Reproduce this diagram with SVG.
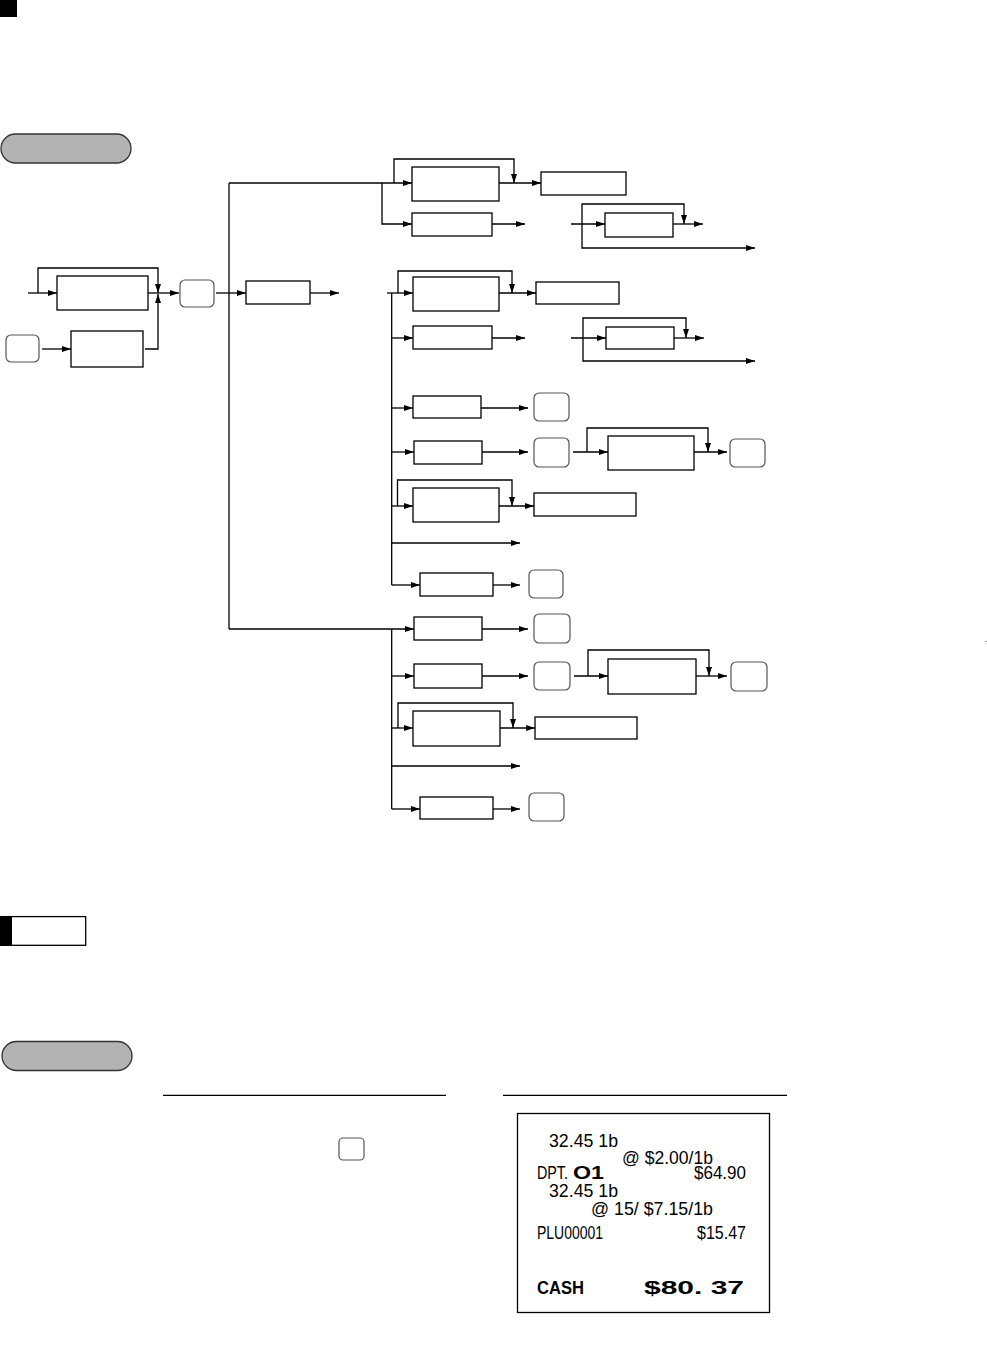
<svg xmlns="http://www.w3.org/2000/svg" width="987" height="1372" viewBox="0 0 987 1372">
<defs>
<marker id="ah" markerUnits="userSpaceOnUse" markerWidth="10" markerHeight="7" refX="9" refY="3" orient="auto">
<path d="M0,0 L9,3 L0,6 z" fill="#000"/>
</marker>
<style>
.bx{fill:#fff;stroke:#000;stroke-width:1.3}
.key{fill:#fff;stroke:#555;stroke-width:1.2}
.pill{fill:#b3b3b3;stroke:#333;stroke-width:1.3}
.ln{fill:none;stroke:#000;stroke-width:1.3}
.ar{fill:none;stroke:#000;stroke-width:1.3;marker-end:url(#ah)}
.rc{font-family:"Liberation Sans",Arial,sans-serif;font-size:19px;fill:#000}
.rb{font-family:"Liberation Sans",Arial,sans-serif;font-size:19px;font-weight:bold;fill:#000}
</style>
</defs>
<rect width="987" height="1372" fill="#fff"/>
<rect x="0" y="0" width="17" height="17" fill="#000"/>
<rect id="pill1" class="pill" x="1" y="134" width="130" height="29" rx="14.5"/>

<g id="connectors">
<!-- left input -->
<path class="ar" d="M28,293 H57"/>
<path class="ar" d="M38,293 V268 H158 V293"/>
<path class="ln" d="M148,293 H158"/>
<path class="ar" d="M158,293 H179"/>
<path class="ar" d="M145,349 H158 V294"/>
<path class="ar" d="M42,349 H71"/>
<path class="ar" d="M216,293 H246"/>
<path class="ar" d="M310,293 H339"/>
<!-- main trunk -->
<path class="ln" d="M229,183 V629"/>
<path class="ar" d="M229,183 H412"/>
<path class="ar" d="M229,629 H414"/>
<!-- group A -->
<path class="ar" d="M382,183 V224 H412"/>
<path class="ar" d="M394,183 V159 H514 V183"/>
<path class="ar" d="M499,183 H541"/>
<path class="ar" d="M492,224 H525"/>
<path class="ar" d="M571,224 H605"/>
<path class="ar" d="M582,224 V204 H684 V224"/>
<path class="ar" d="M582,224 V248 H755"/>
<path class="ar" d="M673,224 H703"/>
<!-- group C -->
<path class="ar" d="M387,293 H413"/>
<path class="ln" d="M391.7,293 V585"/>
<path class="ar" d="M398,293 V271 H512 V293"/>
<path class="ar" d="M499,293 H536"/>
<path class="ar" d="M391.7,338 H413"/>
<path class="ar" d="M492,338 H525"/>
<path class="ar" d="M571,338 H606"/>
<path class="ar" d="M583,338 V318 H686 V338"/>
<path class="ar" d="M583,338 V361 H755"/>
<path class="ar" d="M674,338 H704"/>
<path class="ar" d="M391.7,408 H413"/>
<path class="ar" d="M481,408 H528"/>
<path class="ar" d="M391.7,452 H414"/>
<path class="ar" d="M482,452 H528"/>
<path class="ar" d="M573,452 H608"/>
<path class="ar" d="M587,452 V428 H708 V452"/>
<path class="ar" d="M694,452 H727"/>
<path class="ar" d="M391.7,506 H413"/>
<path class="ar" d="M397.5,506 V480 H512 V506"/>
<path class="ar" d="M499,506 H534"/>
<path class="ar" d="M391.7,543 H520"/>
<path class="ar" d="M391.7,585 H420"/>
<path class="ar" d="M493,585 H520"/>
<!-- group E -->
<path class="ln" d="M391.7,629 V809"/>
<path class="ar" d="M482,629 H528"/>
<path class="ar" d="M391.7,676 H414"/>
<path class="ar" d="M482,676 H528"/>
<path class="ar" d="M574,676 H608"/>
<path class="ar" d="M588,676 V650 H709 V676"/>
<path class="ar" d="M696,676 H727"/>
<path class="ar" d="M391.7,728 H413"/>
<path class="ar" d="M398,728 V703 H513 V728"/>
<path class="ar" d="M500,728 H535"/>
<path class="ar" d="M391.7,766 H520"/>
<path class="ar" d="M391.7,809 H420"/>
<path class="ar" d="M493,809 H520"/>
</g>

<!-- left nodes -->
<g id="n_box1"><rect class="bx" x="57" y="276" width="91" height="34"/></g>
<g id="n_key1"><rect class="key" x="180" y="280" width="34" height="27" rx="5"/></g>
<g id="n_key2"><rect class="key" x="6" y="335" width="33" height="27" rx="5"/></g>
<g id="n_box2"><rect class="bx" x="71" y="331" width="72" height="36"/></g>
<g id="n_box3"><rect class="bx" x="246" y="281" width="64" height="23"/></g>

<!-- group A -->
<g id="n_a1"><rect class="bx" x="412" y="167" width="87" height="34"/></g>
<g id="n_a2"><rect class="bx" x="541" y="172" width="85" height="23"/></g>
<g id="n_b1"><rect class="bx" x="412" y="213" width="80" height="23"/></g>
<g id="n_b2"><rect class="bx" x="605" y="213" width="68" height="24"/></g>

<!-- group C -->
<g id="n_c1"><rect class="bx" x="413" y="277" width="86" height="34"/></g>
<g id="n_c2"><rect class="bx" x="536" y="282" width="83" height="22"/></g>
<g id="n_d1"><rect class="bx" x="413" y="326" width="79" height="23"/></g>
<g id="n_d2"><rect class="bx" x="606" y="327" width="68" height="22"/></g>
<g id="n_e1"><rect class="bx" x="413" y="396" width="68" height="22"/></g>
<g id="n_e2"><rect class="key" x="534" y="393" width="35" height="28" rx="5"/></g>
<g id="n_f1"><rect class="bx" x="414" y="441" width="68" height="23"/></g>
<g id="n_f2"><rect class="key" x="534" y="438" width="35" height="29" rx="5"/></g>
<g id="n_f3"><rect class="bx" x="608" y="436" width="86" height="34"/></g>
<g id="n_f4"><rect class="key" x="730" y="439" width="35" height="28" rx="5"/></g>
<g id="n_g1"><rect class="bx" x="413" y="488" width="86" height="34"/></g>
<g id="n_g2"><rect class="bx" x="534" y="493" width="102" height="23"/></g>
<g id="n_h1"><rect class="bx" x="420" y="573" width="73" height="23"/></g>
<g id="n_h2"><rect class="key" x="529" y="570" width="34" height="28" rx="5"/></g>

<!-- group E -->
<g id="n_i1"><rect class="bx" x="414" y="617" width="68" height="23"/></g>
<g id="n_i2"><rect class="key" x="534" y="614" width="36" height="29" rx="5"/></g>
<g id="n_j1"><rect class="bx" x="414" y="664" width="68" height="24"/></g>
<g id="n_j2"><rect class="key" x="534" y="662" width="36" height="28" rx="5"/></g>
<g id="n_j3"><rect class="bx" x="608" y="659" width="88" height="35"/></g>
<g id="n_j4"><rect class="key" x="731" y="662" width="36" height="29" rx="5"/></g>
<g id="n_k1"><rect class="bx" x="413" y="711" width="87" height="35"/></g>
<g id="n_k2"><rect class="bx" x="535" y="717" width="102" height="22"/></g>
<g id="n_l1"><rect class="bx" x="420" y="797" width="73" height="22"/></g>
<g id="n_l2"><rect class="key" x="529" y="793" width="35" height="28" rx="5"/></g>

<rect x="985" y="641" width="1.5" height="1" fill="#999"/>

<!-- bottom section -->
<rect x="0.7" y="916.6" width="85" height="28.7" fill="#fff" stroke="#000" stroke-width="1.3"/>
<rect x="0" y="916" width="12" height="30" fill="#000"/>
<rect id="pill2" class="pill" x="2" y="1041.5" width="130" height="29" rx="14.5"/>
<line class="ln" x1="163" y1="1095.3" x2="446" y2="1095.3"/>
<line class="ln" x1="503" y1="1095.3" x2="787" y2="1095.3"/>
<g id="n_key_bottom"><rect class="key" x="339" y="1138" width="25" height="22" rx="4"/></g>

<g id="receipt">
<rect x="517.5" y="1113.5" width="252" height="199" fill="#fff" stroke="#000" stroke-width="1.3"/>
<text class="rc" x="549" y="1147" textLength="69" lengthAdjust="spacingAndGlyphs">32.45 1b</text>
<text class="rc" x="622" y="1164" textLength="91" lengthAdjust="spacingAndGlyphs">@ $2.00/1b</text>
<text class="rc" x="537" y="1179" textLength="31" lengthAdjust="spacingAndGlyphs">DPT.</text>
<text class="rb" x="573" y="1179" textLength="31" lengthAdjust="spacingAndGlyphs">O1</text>
<text class="rc" x="694" y="1179" textLength="52" lengthAdjust="spacingAndGlyphs">$64.90</text>
<text class="rc" x="549" y="1197" textLength="69" lengthAdjust="spacingAndGlyphs">32.45 1b</text>
<text class="rc" x="591" y="1215" textLength="122" lengthAdjust="spacingAndGlyphs">@ 15/ $7.15/1b</text>
<text class="rc" x="537" y="1238.5" textLength="66" lengthAdjust="spacingAndGlyphs">PLU00001</text>
<text class="rc" x="697" y="1238.5" textLength="49" lengthAdjust="spacingAndGlyphs">$15.47</text>
<text class="rc" x="537" y="1293.5" textLength="47" lengthAdjust="spacingAndGlyphs" font-weight="bold">CASH</text>
<text class="rb" x="644" y="1293.5" textLength="100" lengthAdjust="spacingAndGlyphs">$80. 37</text>
</g>
</svg>
